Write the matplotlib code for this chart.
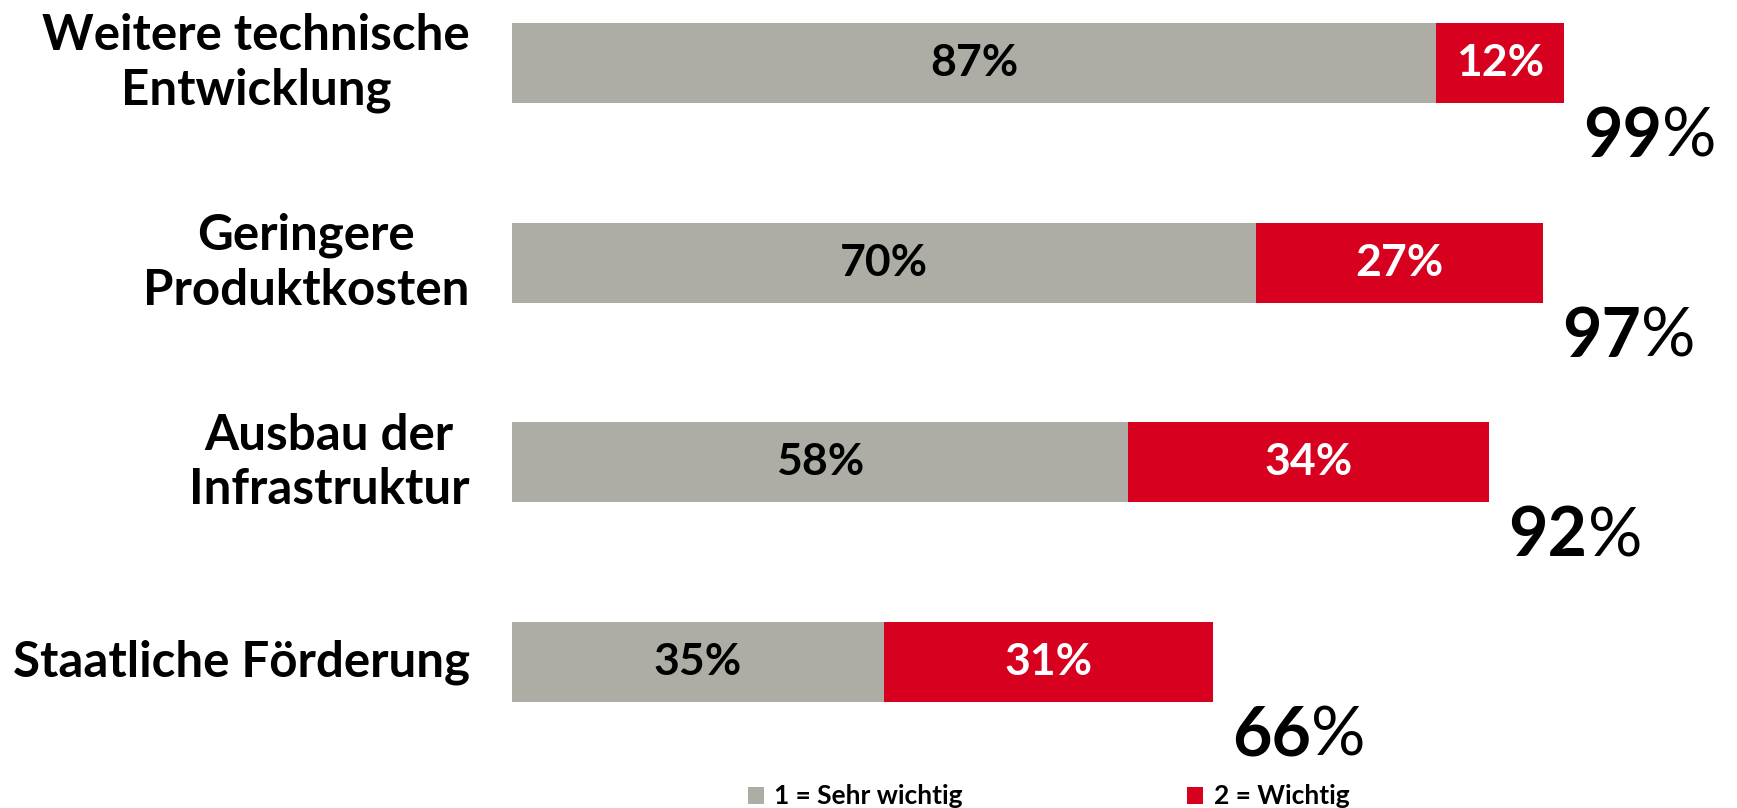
import matplotlib.pyplot as plt
import numpy as np

categories = ["Weitere technische\nEntwicklung", "Geringere\nProduktkosten",
              "Ausbau der\nInfrastruktur", "Staatliche Förderung"]
sehr_wichtig = [87, 70, 58, 35]
wichtig = [12, 27, 34, 31]
totals = [99, 97, 92, 66]
legend_labels = ["1 = Sehr wichtig", "2 = Wichtig"]

GRAY = "#ADADA5"
RED = "#D7001F"

plt.rcParams["font.family"] = ["Lato", "DejaVu Sans"]

fig = plt.figure(figsize=(17.37, 8.08), dpi=100)
ax = fig.add_axes([0.2948, 0, 0.7052, 1])

y = np.arange(len(categories))
h = 0.4
b1 = ax.barh(y, sehr_wichtig, height=h, color=GRAY, label=legend_labels[0])
b2 = ax.barh(y, wichtig, left=sehr_wichtig, height=h, color=RED, label=legend_labels[1])

for i in range(len(categories)):
    ax.text(sehr_wichtig[i] / 2, y[i], f"{sehr_wichtig[i]}%", ha="center", va="center",
            fontsize=32, fontweight="bold", color="black")
    ax.text(sehr_wichtig[i] + wichtig[i] / 2, y[i], f"{wichtig[i]}%", ha="center", va="center",
            fontsize=32, fontweight="bold", color="white")
    t = ax.text(totals[i] + 1.8, y[i] + 0.47, f"{totals[i]}", ha="left", va="baseline",
                fontsize=49, fontweight="bold", color="black")
    ax.annotate("%", xy=(1, 0), xycoords=t, va="bottom", ha="left",
                fontsize=49, fontweight="normal", color="black")
    ax.text(-4, y[i], categories[i], ha="right", va="center", multialignment="center",
            fontsize=35.5, fontweight="bold", color="black", linespacing=1.25)

ax.set_xlim(0, 115.3)
ax.set_ylim(3.731, -0.3155)
ax.axis("off")

fig.legend(handles=[b1, b2], loc="lower left", bbox_to_anchor=(0.417, -0.03), ncol=2,
           frameon=False, prop={"weight": "bold", "size": 19},
           handlelength=0.6, handleheight=0.6, handletextpad=0.4, columnspacing=8.5)

fig.savefig("out.png", dpi=100)
